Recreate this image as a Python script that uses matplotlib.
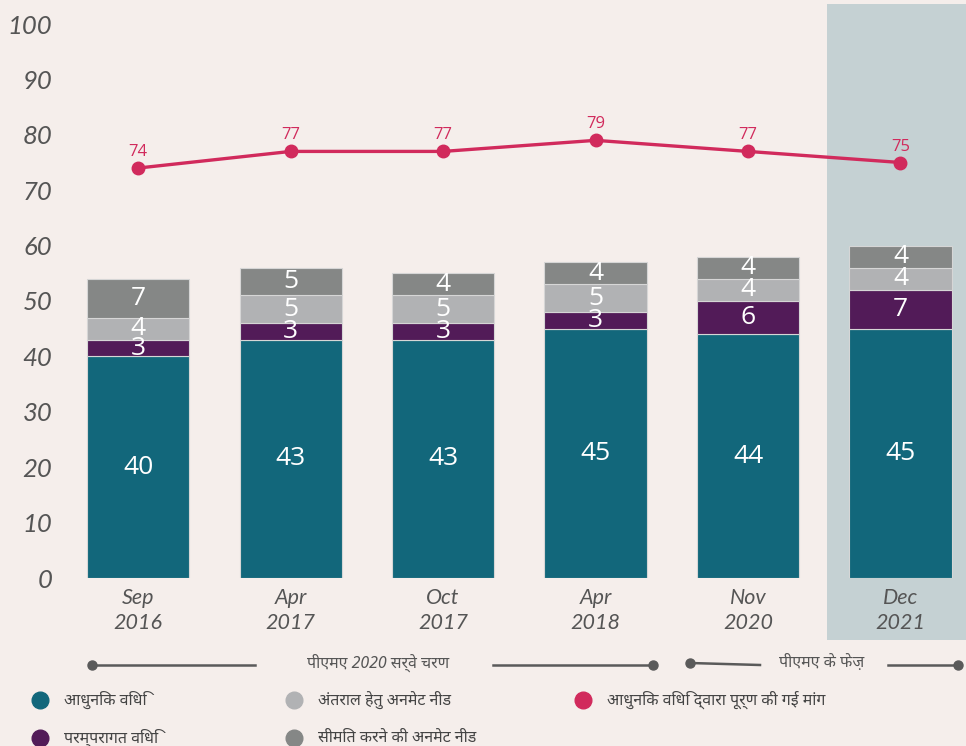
import numpy as np
from matplotlib import pyplot as plt
from matplotlib import font_manager
from matplotlib.ft2font import FT2Font
from matplotlib.lines import Line2D
from matplotlib.patches import Rectangle

# data
periods = ["Sep\n2016", "Apr\n2017", "Oct\n2017", "Apr\n2018", "Nov\n2020", "Dec\n2021"]
modern = [40, 43, 43, 45, 44, 45]
traditional = [3, 3, 3, 3, 6, 7]
unmet_spacing = [4, 5, 5, 5, 4, 4]
unmet_limiting = [7, 5, 4, 4, 4, 4]
demand_satisfied = [74, 77, 77, 79, 77, 75]

legend_labels = ["आधुनिक विधि", "परम्परागत विधि", "अंतराल हेतु अनमेट नीड",
                 "सीमित करने की अनमेट नीड", "आधुनिक विधि द्वारा पूर्ण की गई मांग"]
phase_labels = ["पीएमए 2020 सर्वे चरण", "पीएमए के फेज़"]

c_modern = "#12677b"
c_trad = "#521b58"
c_space = "#b1b2b4"
c_limit = "#858786"
c_line = "#d12a5c"
bg = "#f5eeeb"
hl = "#c5d1d3"
txt = "#555555"

deva_fam = ["Noto Sans", "DejaVu Sans"]
num_fam = ["Lato", "DejaVu Sans"]
val_fam = ["Open Sans", "DejaVu Sans"]

# use italic for the Hindi text only if the italic face has the glyphs
deva_style = "normal"
try:
    p = font_manager.findfont(font_manager.FontProperties(family="Noto Sans", style="italic"))
    if FT2Font(p).get_char_index(ord("क")):
        deva_style = "italic"
except Exception:
    pass

W, H = 966, 746
fig = plt.figure(figsize=(W / 100, H / 100), dpi=100, facecolor=bg)


def fx(px):
    return px / W


def fy(py):
    return 1 - py / H


# highlight band for the last phase
fig.patches.append(Rectangle((fx(827), fy(640)), fx(966) - fx(827), fy(4) - fy(640),
                             transform=fig.transFigure, facecolor=hl, edgecolor="none", zorder=-5))

ax = fig.add_axes([fx(62), fy(578), fx(966) - fx(62), fy(24) - fy(578)])
ax.set_facecolor("none")
ax.set_zorder(1)

x = np.arange(len(periods))
w = 0.67
bottom = np.zeros(len(periods))
for vals, col in [(modern, c_modern), (traditional, c_trad),
                  (unmet_spacing, c_space), (unmet_limiting, c_limit)]:
    vals = np.array(vals, dtype=float)
    ax.bar(x, vals, w, bottom=bottom, color=col, edgecolor="#d6d6d6", linewidth=0.8, zorder=2)
    for xi, b, v in zip(x, bottom, vals):
        ax.text(xi, b + v / 2, f"{v:.0f}", ha="center", va="center", color="white",
                fontsize=19, family=val_fam, zorder=4)
    bottom += vals

ax.plot(x, demand_satisfied, color=c_line, lw=2.4, marker="o", ms=9, zorder=5)
for xi, v in zip(x, demand_satisfied):
    ax.annotate(str(v), (xi, v), xytext=(0, 11.5), textcoords="offset points",
                ha="center", va="center", color=c_line, fontsize=12, family=val_fam)

ax.set_xlim(-0.5, 5.43)
ax.set_ylim(0, 100)
ax.set_yticks(range(0, 101, 10))
ax.set_xticks(x)
ax.set_xticklabels(periods, linespacing=1.3)
for lab in ax.get_yticklabels():
    lab.set_family(num_fam)
    lab.set_style("italic")
    lab.set_fontsize(18.5)
    lab.set_color(txt)
for lab in ax.get_xticklabels():
    lab.set_family(num_fam)
    lab.set_style("italic")
    lab.set_fontsize(15.5)
    lab.set_color(txt)
ax.tick_params(axis="y", length=0, pad=7)
ax.tick_params(axis="x", length=0, pad=7)
for s in ax.spines.values():
    s.set_visible(False)

# phase brackets below the axis
lc = "#5a5a5a"


def seg(x0, y0, x1, y1, dot_left=False, dot_right=False):
    fig.add_artist(Line2D([fx(x0), fx(x1)], [fy(y0), fy(y1)], color=lc, lw=1.8))
    if dot_left:
        fig.add_artist(Line2D([fx(x0)], [fy(y0)], marker="o", ms=6.5, color=lc))
    if dot_right:
        fig.add_artist(Line2D([fx(x1)], [fy(y1)], marker="o", ms=6.5, color=lc))


seg(92, 665, 255, 665, dot_left=True)
seg(493, 665, 653, 665, dot_right=True)
seg(690, 663, 760, 665, dot_left=True)
seg(888, 665, 958, 665, dot_right=True)
fig.text(fx(378), fy(663), phase_labels[0], ha="center", va="center", color=txt,
         fontsize=11.5, style=deva_style, family=deva_fam)
fig.text(fx(822), fy(663), phase_labels[1], ha="center", va="center", color=txt,
         fontsize=11.5, style=deva_style, family=deva_fam)

# legend
legend_items = [
    (40, 700, c_modern, legend_labels[0]),
    (40, 738, c_trad, legend_labels[1]),
    (294, 700, c_space, legend_labels[2]),
    (294, 738, c_limit, legend_labels[3]),
    (583, 700, c_line, legend_labels[4]),
]
for px, py, col, lab in legend_items:
    fig.add_artist(Line2D([fx(px)], [fy(py)], marker="o", ms=12, color=col, lw=0))
    fig.text(fx(px + 24), fy(py), lab, ha="left", va="center", color="#444444",
             fontsize=11.5, style=deva_style, family=deva_fam)

fig.savefig("out.png", dpi=100, facecolor=bg)
